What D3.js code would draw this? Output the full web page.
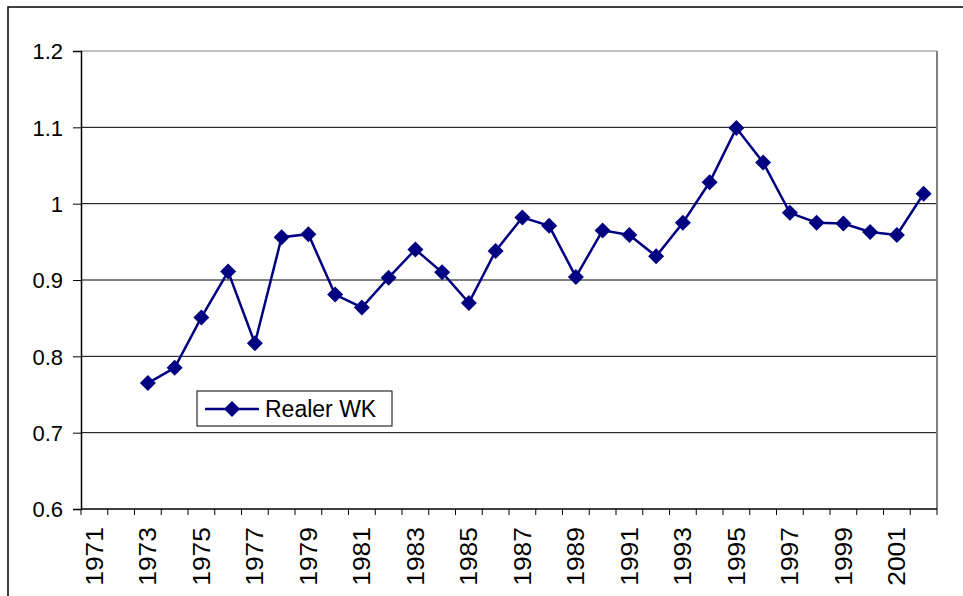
<!DOCTYPE html>
<html><head><meta charset="utf-8">
<script src="https://cdn.jsdelivr.net/npm/d3@7"></script>
<style>body{margin:0;background:#fff}svg{display:block}text{font-family:Arial,"Liberation Sans",sans-serif;fill:#000}</style>
</head><body><svg id="c" width="963" height="596"></svg>
<script>
const years = d3.range(1971, 2003).map(String);
const seriesName = "Realer WK";
const values = [null, null, 0.765, 0.785, 0.851, 0.911, 0.817, 0.956, 0.960, 0.881, 0.864, 0.903, 0.940, 0.910, 0.870, 0.938, 0.982, 0.971, 0.904, 0.965, 0.959, 0.931, 0.975, 1.028, 1.099, 1.054, 0.988, 0.975, 0.974, 0.963, 0.959, 1.013];
const yTicks = [0.6, 0.7, 0.8, 0.9, 1.0, 1.1, 1.2];
const xLabels = years.filter((d, i) => i % 2 === 0);

const svg = d3.select("#c");
const L = 81, R = 937, T = 51, B = 509;
const x = d3.scaleBand().domain(years).range([L, R]);
const y = d3.scaleLinear().domain([0.6, 1.2]).range([B, T]);

// outer border
svg.append("rect").attr("x", 8).attr("y", 7).attr("width", 970).attr("height", 620)
  .attr("fill", "none").attr("stroke", "#000").attr("stroke-width", 1.5);

// gridlines
svg.append("g").selectAll("line").data(yTicks.filter(v => v > 0.6)).join("line")
  .attr("x1", L).attr("x2", R).attr("y1", d => y(d)).attr("y2", d => y(d))
  .attr("stroke", d => d === 1.2 ? "#808080" : "#000").attr("stroke-width", 1);
// right border
svg.append("line").attr("x1", R).attr("x2", R).attr("y1", T).attr("y2", B)
  .attr("stroke", "#808080").attr("stroke-width", 2);

// y axis
const ya = svg.append("g").attr("transform", `translate(${L},0)`)
  .call(d3.axisLeft(y).tickValues(yTicks).tickFormat(d => d === 1 ? "1" : d3.format(".1f")(d)).tickSize(8).tickPadding(10));
ya.select(".domain").attr("stroke", "#000").attr("stroke-width", 1.5);
ya.selectAll(".tick line").attr("stroke", "#000");
ya.selectAll("text").style("font-size", "22px").attr("dy", "0.35em");

// x axis
const xa = svg.append("g").attr("transform", `translate(0,${B})`);
xa.append("line").attr("x1", L).attr("x2", R).attr("y1", 0).attr("y2", 0).attr("stroke", "#000").attr("stroke-width", 1.5);
const edges = years.map(d => x(d)).concat([R]);
xa.selectAll("line.tk").data(edges).join("line").attr("class", "tk")
  .attr("x1", d => d).attr("x2", d => d).attr("y1", 0).attr("y2", 6).attr("stroke", "#000");
xa.selectAll("text").data(xLabels).join("text")
  .attr("transform", d => `translate(${x(d) + x.bandwidth() / 2},18) rotate(-90) scale(1.15,1)`)
  .attr("text-anchor", "end").attr("dy", "0.36em").style("font-size", "23px").text(d => d);

// series
const pts = years.map((d, i) => ({ k: d, v: values[i] })).filter(p => p.v != null);
const cx = d => x(d.k) + x.bandwidth() / 2;
svg.append("path").datum(pts)
  .attr("d", d3.line().x(cx).y(d => y(d.v)))
  .attr("fill", "none").attr("stroke", "#000080").attr("stroke-width", 2.5);
const diamond = "M0,-8L8,0L0,8L-8,0Z";
svg.append("g").selectAll("path").data(pts).join("path")
  .attr("transform", d => `translate(${cx(d)},${y(d.v)})`).attr("d", diamond).attr("fill", "#000080");

// legend
const lg = svg.append("g");
lg.append("rect").attr("x", 197).attr("y", 391).attr("width", 195).attr("height", 35)
  .attr("fill", "#fff").attr("stroke", "#000").attr("stroke-width", 1);
lg.append("line").attr("x1", 205).attr("x2", 259).attr("y1", 409).attr("y2", 409).attr("stroke", "#000080").attr("stroke-width", 2.5);
lg.append("path").attr("transform", "translate(232,409)").attr("d", diamond).attr("fill", "#000080");
lg.append("text").attr("x", 265).attr("y", 409).attr("dy", "0.36em").style("font-size", "23px").text(seriesName);
</script></body></html>
